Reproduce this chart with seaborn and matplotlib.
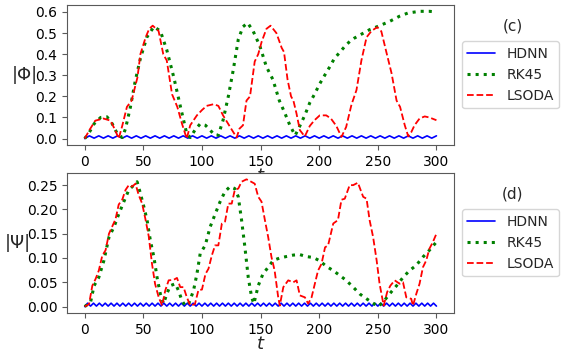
import numpy as np
import pandas as pd
import matplotlib
matplotlib.use("Agg")
import matplotlib.pyplot as plt
import seaborn as sns

# ---- panel (c): |Phi| ----
t_phi_rk = [0, 4, 8, 13.6, 19, 23.5, 27.7, 32, 34.8, 39, 43, 47.5, 53, 59, 64.5, 70, 76, 81.7,
            87, 90, 94, 98.5, 103, 107, 111, 114, 118, 122.5, 126.7, 131, 135, 139, 143.6,
            149.3, 155, 160.5, 166, 170, 175, 179.5, 183.5, 187.7, 192, 196, 200.5, 204.7,
            209, 213, 217, 221.7, 226, 230, 234.5, 243, 251.5, 260, 268.6, 275.7, 285.6,
            294, 300]
phi_rk = [0.0, 0.03, 0.07, 0.1, 0.103, 0.07, 0.024, 0.005, 0.047, 0.15, 0.27, 0.38, 0.48,
          0.53, 0.51, 0.42, 0.29, 0.15, 0.024, 0.005, 0.04, 0.07, 0.063, 0.04, 0.016, 0.016,
          0.087, 0.2, 0.325, 0.47, 0.53, 0.548, 0.51, 0.44, 0.34, 0.28, 0.18, 0.13, 0.063,
          0.015, 0.06, 0.11, 0.17, 0.21, 0.26, 0.3, 0.34, 0.38, 0.405, 0.436, 0.46, 0.476,
          0.49, 0.516, 0.535, 0.555, 0.58, 0.595, 0.603, 0.603, 0.6]

t_phi_ls = [0, 4, 9, 16, 22, 26, 29, 32, 36, 40, 45, 47.5, 52, 55, 58, 63, 67, 70, 74.5, 79,
            83, 87, 90, 95.7, 100, 104, 110, 114, 118, 124, 129.6, 132, 135, 138, 141, 145,
            148, 151, 155, 158.5, 163.5, 168, 170, 173, 176, 178, 180.6, 183.5, 187.7, 192,
            196, 200.5, 206, 210, 214.6, 219, 223, 227.5, 231.8, 236, 240.4, 244.6, 249.5,
            253, 257.5, 261.7, 266, 269, 273, 276, 278.5, 281.3, 285.6, 290, 294, 300]
phi_ls = [0.0, 0.04, 0.085, 0.095, 0.085, 0.04, 0.0, 0.06, 0.15, 0.18, 0.29, 0.4, 0.48, 0.52,
          0.535, 0.51, 0.4, 0.37, 0.21, 0.15, 0.07, 0.0, 0.063, 0.11, 0.135, 0.155, 0.163,
          0.155, 0.11, 0.055, 0.005, 0.047, 0.063, 0.18, 0.2, 0.365, 0.4, 0.46, 0.52, 0.535,
          0.5, 0.43, 0.41, 0.28, 0.2, 0.18, 0.12, 0.04, 0.01, 0.06, 0.087, 0.11, 0.11, 0.095,
          0.06, 0.008, 0.055, 0.16, 0.23, 0.37, 0.48, 0.51, 0.528, 0.508, 0.405, 0.31, 0.18,
          0.15, 0.063, 0.01, 0.03, 0.063, 0.095, 0.105, 0.1, 0.087]

t_phi_nn = np.arange(0, 301, 4)
phi_nn = [0.000, 0.013, 0.002, 0.013, 0.002, 0.013, 0.002, 0.013, 0.002, 0.013,
          0.002, 0.013, 0.002, 0.013, 0.002, 0.013, 0.002, 0.013, 0.002, 0.013,
          0.002, 0.013, 0.002, 0.013, 0.002, 0.013, 0.002, 0.013, 0.002, 0.013,
          0.002, 0.013, 0.002, 0.013, 0.002, 0.013, 0.002, 0.013, 0.002, 0.013,
          0.002, 0.013, 0.002, 0.013, 0.002, 0.013, 0.002, 0.013, 0.002, 0.013,
          0.002, 0.013, 0.002, 0.013, 0.002, 0.013, 0.002, 0.013, 0.002, 0.013,
          0.002, 0.013, 0.002, 0.013, 0.002, 0.013, 0.002, 0.013, 0.002, 0.013,
          0.002, 0.013, 0.002, 0.013, 0.002, 0.013]

# ---- panel (d): |Psi| ----
t_psi_rk = [0, 5, 8, 12, 16.4, 20.7, 25, 29, 33.4, 37.6, 41.9, 44.7, 47.5, 50.4, 53.2, 56, 59,
            61.7, 64.5, 67.3, 70, 73, 77.3, 80, 83, 85.7, 88.6, 92.8, 95.7, 98.5, 102.8, 107,
            111.2, 115.5, 119.7, 124, 128, 131, 133.8, 136.6, 139.5, 142.4, 144.3, 148, 152,
            156.5, 160.8, 166.4, 172, 177.9, 183.5, 189, 195, 200.6, 206, 212, 217.6, 223, 229,
            234.6, 240.4, 246, 250.3, 254.5, 260, 266, 271.5, 277, 282.8, 288.5, 294, 300]
psi_rk = [0.0, 0.009, 0.043, 0.06, 0.095, 0.143, 0.164, 0.19, 0.216, 0.24, 0.25, 0.257, 0.233,
          0.206, 0.178, 0.136, 0.102, 0.06, 0.026, 0.006, 0.026, 0.043, 0.047, 0.033, 0.012,
          0.002, 0.005, 0.033, 0.067, 0.109, 0.126, 0.164, 0.19, 0.216, 0.237, 0.247, 0.243,
          0.226, 0.178, 0.123, 0.06, 0.019, 0.006, 0.043, 0.067, 0.081, 0.095, 0.1, 0.103,
          0.106, 0.107, 0.103, 0.101, 0.094, 0.083, 0.074, 0.064, 0.054, 0.04, 0.026, 0.016,
          0.007, 0.0, 0.009, 0.026, 0.043, 0.06, 0.074, 0.085, 0.102, 0.116, 0.133]

t_psi_ls = [0, 3.7, 6.5, 9.3, 12, 15, 17.8, 20.7, 23.5, 26.3, 29, 32, 34.8, 37.6, 40.5, 43.3,
            46, 49, 51.8, 54.6, 57.4, 60, 63, 66, 68.7, 71.6, 75.8, 78.7, 81.5, 84.3, 87, 90,
            94, 97, 100, 103, 105.6, 108.4, 111.2, 114, 117, 119.7, 122.5, 125.4, 128, 131,
            133.8, 138, 142, 145, 148, 150.8, 153.7, 156.5, 159.3, 162, 165, 166.4, 169.4,
            173.6, 177.9, 180.7, 183.5, 187.8, 190.6, 193.5, 196.3, 199, 202, 205, 207.6, 212,
            216, 219, 221.8, 226, 229, 233, 237.5, 240.4, 243, 246, 249, 251.5, 255, 258,
            260.7, 264.4, 268.6, 271.5, 274.3, 278.5, 280, 282.8, 285.6, 288.5, 291.3, 294,
            297, 300]
psi_ls = [0.0, 0.005, 0.043, 0.057, 0.074, 0.105, 0.116, 0.15, 0.165, 0.18, 0.21, 0.22, 0.24,
          0.25, 0.247, 0.253, 0.23, 0.212, 0.18, 0.145, 0.088, 0.047, 0.02, 0.002, 0.033,
          0.054, 0.055, 0.059, 0.04, 0.04, 0.02, 0.002, 0.005, 0.034, 0.035, 0.067, 0.078,
          0.105, 0.126, 0.126, 0.171, 0.175, 0.212, 0.212, 0.24, 0.243, 0.257, 0.262, 0.257,
          0.253, 0.226, 0.216, 0.178, 0.143, 0.102, 0.074, 0.02, 0.002, 0.04, 0.054, 0.05,
          0.054, 0.023, 0.019, 0.006, 0.019, 0.047, 0.074, 0.088, 0.122, 0.126, 0.171, 0.178,
          0.22, 0.222, 0.25, 0.25, 0.255, 0.226, 0.222, 0.178, 0.143, 0.095, 0.047, 0.002,
          0.03, 0.043, 0.054, 0.047, 0.05, 0.019, 0.016, 0.002, 0.026, 0.047, 0.081, 0.095,
          0.119, 0.133, 0.15]

t_psi_nn = np.arange(0, 301, 2.5)
psi_nn = [0.000, 0.007, 0.001, 0.007, 0.001, 0.007, 0.001, 0.007, 0.001, 0.007,
          0.001, 0.007, 0.001, 0.007, 0.001, 0.007, 0.001, 0.007, 0.001, 0.007,
          0.001, 0.007, 0.001, 0.007, 0.001, 0.007, 0.001, 0.007, 0.001, 0.007,
          0.001, 0.007, 0.001, 0.007, 0.001, 0.007, 0.001, 0.007, 0.001, 0.007,
          0.001, 0.007, 0.001, 0.007, 0.001, 0.007, 0.001, 0.007, 0.001, 0.007,
          0.001, 0.007, 0.001, 0.007, 0.001, 0.007, 0.001, 0.007, 0.001, 0.007,
          0.001, 0.007, 0.001, 0.007, 0.001, 0.007, 0.001, 0.007, 0.001, 0.007,
          0.001, 0.007, 0.001, 0.007, 0.001, 0.007, 0.001, 0.007, 0.001, 0.007,
          0.001, 0.007, 0.001, 0.007, 0.001, 0.007, 0.001, 0.007, 0.001, 0.007,
          0.001, 0.007, 0.001, 0.007, 0.001, 0.007, 0.001, 0.007, 0.001, 0.007,
          0.001, 0.007, 0.001, 0.007, 0.001, 0.007, 0.001, 0.007, 0.001, 0.007,
          0.001, 0.007, 0.001, 0.007, 0.001, 0.007, 0.001, 0.007, 0.001, 0.007,
          0.001]

sns.set_style("ticks")
plt.rcParams['font.family'] = ['DejaVu Sans']
plt.rcParams['axes.edgecolor'] = '0.35'
plt.rcParams['xtick.color'] = '0.35'
plt.rcParams['ytick.color'] = '0.35'
plt.rcParams['xtick.labelcolor'] = 'black'
plt.rcParams['ytick.labelcolor'] = 'black'

fig, axes = plt.subplots(2, 1, figsize=(5.64, 3.54), dpi=100)
fig.subplots_adjust(left=0.119, right=0.805, top=0.986, bottom=0.116, hspace=0.2)

panels = [
    (axes[0], t_phi_nn, phi_nn, t_phi_rk, phi_rk, t_phi_ls, phi_ls, '|Φ|', '(c)', -0.11),
    (axes[1], t_psi_nn, psi_nn, t_psi_rk, psi_rk, t_psi_ls, psi_ls, '|Ψ|', '(d)', -0.128),
]

for ax, tn, yn, tr, yr, tl, yl, ylab, tag, lx in panels:
    sns.lineplot(x=tn, y=yn, ax=ax, color='blue', lw=1.2, label='HDNN')
    sns.lineplot(x=tr, y=yr, ax=ax, color='green', lw=2.2, linestyle=':', label='RK45')
    sns.lineplot(x=tl, y=yl, ax=ax, color='red', lw=1.3, linestyle='--', label='LSODA')
    ax.set_xticks([0, 50, 100, 150, 200, 250, 300])
    ax.tick_params(labelsize=10)
    ax.set_xlabel('$t$', fontsize=13, labelpad=-1)
    ax.set_ylabel(ylab, fontsize=13, rotation=0, ha='center', va='center')
    ax.yaxis.set_label_coords(lx, 0.5)
    ax.legend(loc='upper left', bbox_to_anchor=(1.02, 0.74), borderaxespad=0, fontsize=10)
    ax.text(1.152, 0.85, tag, transform=ax.transAxes, ha='center', va='center', fontsize=11)

axes[0].set_yticks([0.0, 0.1, 0.2, 0.3, 0.4, 0.5, 0.6])
axes[1].set_yticks([0.0, 0.05, 0.1, 0.15, 0.2, 0.25])
axes[1].yaxis.set_major_formatter(matplotlib.ticker.FormatStrFormatter('%.2f'))

fig.savefig('out.png', dpi=100)
